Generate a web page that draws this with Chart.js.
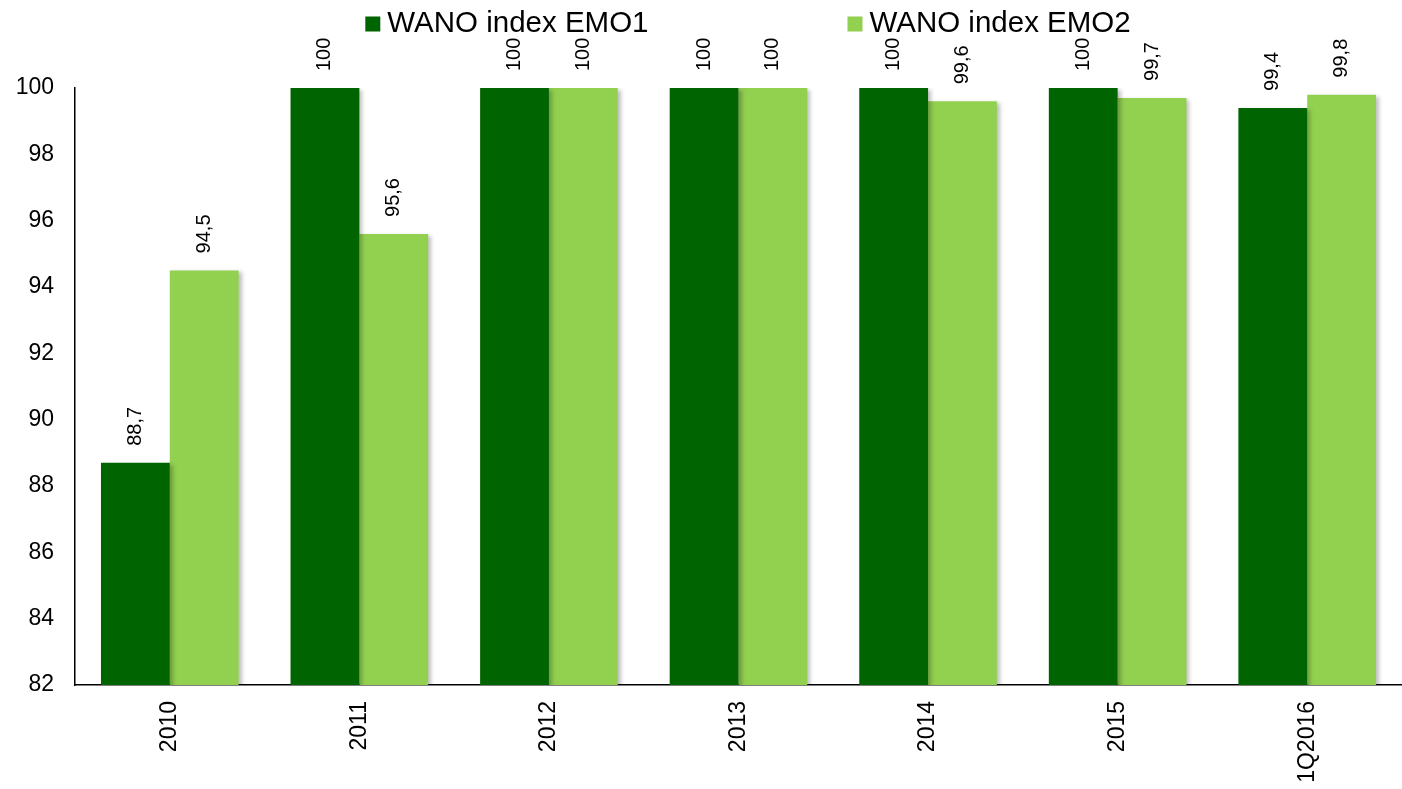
<!DOCTYPE html>
<html>
<head>
<meta charset="utf-8">
<script src="https://cdn.jsdelivr.net/npm/chart.js@4/dist/chart.umd.min.js"></script>
<style>
  html, body { margin: 0; padding: 0; background: #fff; }
  #wrap { width: 1402px; height: 789px; }
</style>
</head>
<body>
<div id="wrap"><canvas id="wanoChart"></canvas></div>
<script>
// Data
const years = ['2010', '2011', '2012', '2013', '2014', '2015', '1Q2016'];
const emo1 = [88.7, 100, 100, 100, 100, 100, 99.4];
const emo2 = [94.5, 95.6, 100, 100, 99.6, 99.7, 99.8];
const yTicks = [82, 84, 86, 88, 90, 92, 94, 96, 98, 100];

const FONT = 'Liberation Sans, Arial, sans-serif';

// Values above bars, rotated, comma decimal
const valueLabels = {
    id: 'valueLabels',
    afterDatasetsDraw(chart) {
        const ctx = chart.ctx;
        ctx.save();
        ctx.font = '20px ' + FONT;
        ctx.fillStyle = '#000';
        ctx.textAlign = 'left';
        ctx.textBaseline = 'middle';
        chart.data.datasets.forEach((ds, i) => {
            chart.getDatasetMeta(i).data.forEach((bar, j) => {
                const txt = String(ds.data[j]).replace('.', ',');
                ctx.save();
                ctx.translate(bar.x, bar.y - 17);
                ctx.rotate(-Math.PI / 2);
                ctx.fillText(txt, 0, 0);
                ctx.restore();
            });
        });
        ctx.restore();
    }
};

// Soft shadow under the bars
const barShadow = {
    id: 'barShadow',
    beforeDatasetsDraw(chart) {
        const ctx = chart.ctx;
        ctx.save();
        ctx.shadowColor = 'rgba(0,0,0,0.25)';
        ctx.shadowBlur = 4;
        ctx.shadowOffsetX = 3;
        ctx.shadowOffsetY = 2;
    },
    afterDatasetsDraw(chart) {
        chart.ctx.restore();
    }
};

// Legend at the top, two items spread apart
const topLegend = {
    id: 'topLegend',
    afterDraw(chart) {
        const ctx = chart.ctx;
        const box = 15, gapText = 7, gapItems = 199;
        ctx.save();
        ctx.font = '29.5px ' + FONT;
        ctx.textBaseline = 'middle';
        ctx.textAlign = 'left';
        const items = chart.data.datasets.map(ds => ({
            label: ds.label,
            color: ds.backgroundColor,
            w: box + gapText + ctx.measureText(ds.label).width
        }));
        const total = items.reduce((a, it) => a + it.w, 0) + gapItems * (items.length - 1);
        let x = (chart.width - total) / 2 + 47;
        const y = 24;
        items.forEach(it => {
            ctx.fillStyle = it.color;
            ctx.fillRect(x, y - box / 2, box, box);
            ctx.fillStyle = '#000';
            ctx.fillText(it.label, x + box + gapText, y);
            x += it.w + gapItems;
        });
        ctx.restore();
    }
};

new Chart(document.getElementById('wanoChart'), {
    type: 'bar',
    data: {
        labels: years,
        datasets: [
            { label: 'WANO index EMO1', data: emo1, backgroundColor: '#006400' },
            { label: 'WANO index EMO2', data: emo2, backgroundColor: '#92D050' }
        ]
    },
    options: {
        responsive: true,
        maintainAspectRatio: false,
        animation: false,
        layout: { padding: { top: 88, right: 0, left: 0, bottom: 0 } },
        plugins: {
            legend: { display: false },
            tooltip: { enabled: false }
        },
        datasets: {
            bar: { categoryPercentage: 0.726, barPercentage: 1.0 }
        },
        scales: {
            x: {
                grid: { display: false, drawTicks: false },
                border: { display: true, color: '#000', width: 1.5 },
                ticks: {
                    color: '#000',
                    font: { family: FONT, size: 23 },
                    minRotation: 90,
                    maxRotation: 90,
                    padding: 16
                },
                afterFit(scale) { scale.height = 104; }
            },
            y: {
                min: 82,
                max: 100,
                grid: { display: false, drawTicks: false },
                border: { display: true, color: '#000', width: 1.5 },
                afterBuildTicks(scale) { scale.ticks = yTicks.map(v => ({ value: v })); },
                ticks: {
                    color: '#000',
                    font: { family: FONT, size: 23 },
                    padding: 21
                },
                afterFit(scale) { scale.width = 75; }
            }
        }
    },
    plugins: [barShadow, valueLabels, topLegend]
});
</script>
</body>
</html>
